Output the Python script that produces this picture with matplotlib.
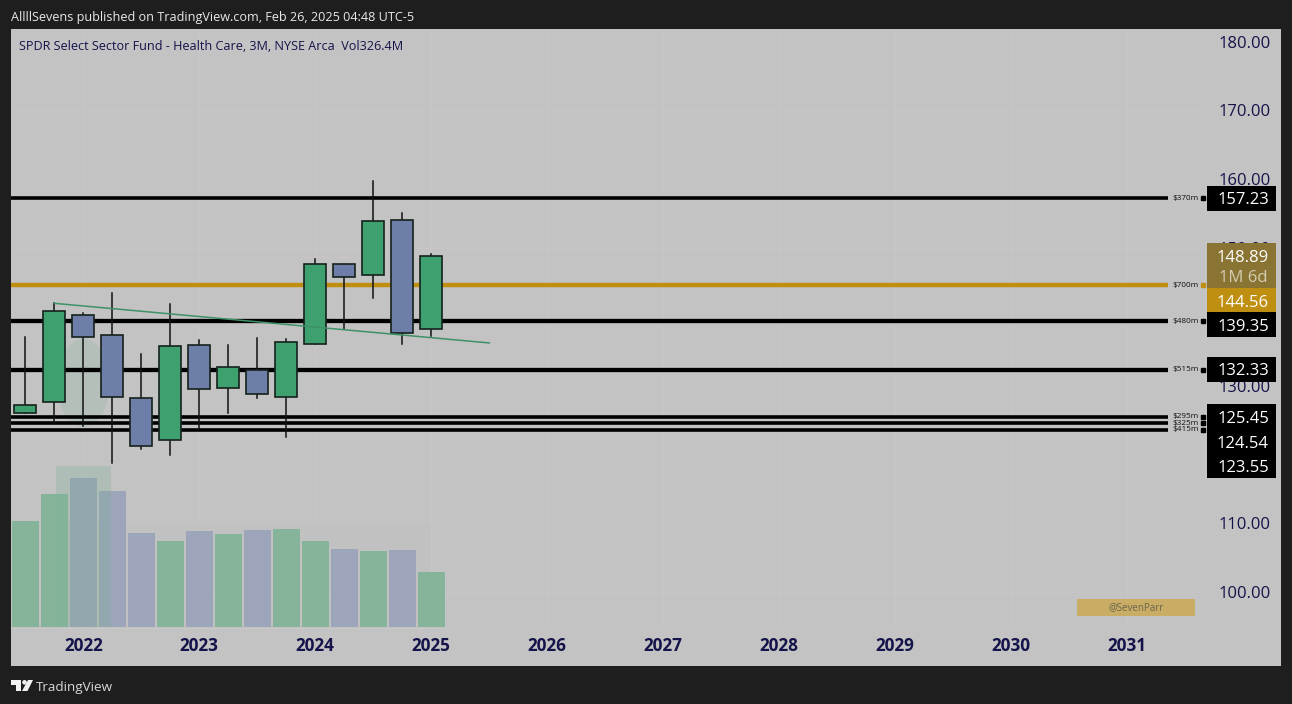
import matplotlib
matplotlib.use("Agg")
import matplotlib.pyplot as plt
from matplotlib.patches import Circle, Ellipse, Polygon, Rectangle

# OHLC, one candle per quarter
opens = [126.07, 127.57, 140.22, 137.31, 128.25, 122.05, 135.90, 129.61, 132.22, 128.39, 136.10, 147.63, 146.13, 154.12, 138.28]
highs = [137.12, 141.96, 140.51, 143.51, 134.55, 141.82, 136.63, 135.85, 136.87, 136.73, 148.36, 147.73, 159.74, 155.14, 149.13]
lows = [126.07, 124.76, 124.13, 118.80, 120.74, 119.92, 123.79, 126.07, 128.15, 122.58, 136.10, 138.18, 142.78, 136.00, 137.20]
closes = [127.23, 140.85, 137.07, 128.30, 121.17, 135.81, 129.51, 132.66, 128.73, 136.29, 147.68, 145.79, 153.98, 137.60, 148.84]
volumes = [631, 791, 884, 809, 556, 508, 572, 554, 574, 582, 510, 465, 451, 459, 326.4]
candle_x = [-2, -1, 0, 1, 2, 3, 4, 5, 6, 7, 8, 9, 10, 11, 12]

year_labels = ["2022", "2023", "2024", "2025", "2026", "2027", "2028", "2029", "2030", "2031"]
year_x = [0, 4, 8, 12, 16, 20, 24, 28, 32, 36]
# 120 and 140 sit fully behind the price tags in the reference
price_ticks = [100, 110, 130, 150, 160, 170, 180]

level_prices = [157.23, 139.35, 132.33, 125.45, 124.54, 123.55]
level_sizes = ["$370m", "$480m", "$515m", "$295m", "$325m", "$415m"]
gold_price = 144.56
gold_size = "$700m"
trend_x = [-1, 14]
trend_y = [141.96, 136.20]

BG = "#1e1e1e"
PANE = "#c3c3c3"
GRID = "#c6c6c6"
GREEN = "#3fa06f"
BLUE = "#6d7ea8"
GOLD = "#bf8f12"
NAVY = "#14134a"
W, H = 1292, 704


def box(l, t, r, b):
    return [l / W, 1 - b / H, (r - l) / W, (b - t) / H]


plt.rcParams["font.family"] = ["Open Sans", "DejaVu Sans"]
fig = plt.figure(figsize=(W / 100, H / 100), dpi=100, facecolor=BG)

# whole pane incl. the axis strips
back = fig.add_axes(box(11, 29, 1281, 666), facecolor=PANE, zorder=0)
back.set_xticks([])
back.set_yticks([])
for s in back.spines.values():
    s.set_visible(False)

ax = fig.add_axes(box(11, 29, 1205, 628), facecolor="none", zorder=1)
ax.set_xlim(-2.493, 38.68)
ax.set_ylim(94.77, 181.83)

for x in year_x:
    ax.axvline(x, color=GRID, lw=0.8, zorder=0)
for p in price_ticks:
    ax.axhline(p, color=GRID, lw=0.8, zorder=0)

ax.add_patch(Ellipse((0, 130.4), 1.83, 12.8, color="#8fb8a0", alpha=0.3, lw=0, zorder=1))

# levels stop short of the axis, then the size label and a small dot
line_end = 37.4
for p, lab in zip(level_prices, level_sizes):
    lw = 3.1 if p in (139.35, 132.33) else 2.6
    ax.plot([-2.493, line_end], [p, p], color="black", lw=lw, solid_capstyle="butt", zorder=2)
    ax.text(37.55, p, lab, fontsize=5.9, color="#111111", va="center", ha="left", zorder=5)
    ax.plot([38.6], [p], marker="s", ms=2.4, color="black", clip_on=False, zorder=5)
ax.plot([-2.493, line_end], [gold_price, gold_price], color=GOLD, lw=3.2, solid_capstyle="butt", zorder=2)
ax.text(37.55, gold_price, gold_size, fontsize=5.9, color="#111111", va="center", ha="left", zorder=5)
ax.plot([38.6], [gold_price], marker="s", ms=2.4, color=GOLD, clip_on=False, zorder=5)

for x, o, h, l, c in zip(candle_x, opens, highs, lows, closes):
    col = GREEN if c >= o else BLUE
    ax.plot([x, x], [l, h], color="#111111", lw=1.1, zorder=3)
    ax.add_patch(Rectangle((x - 0.375, min(o, c)), 0.75, abs(c - o), facecolor=col,
                           edgecolor="#16211c", lw=1.2, zorder=4))

ax.plot(trend_x, trend_y, color="#3d9268", lw=1.1, zorder=5)

ax.set_xticks(year_x)
ax.set_xticklabels(year_labels, fontsize=12.3, fontweight="bold", color=NAVY)
ax.tick_params(axis="x", length=0, pad=6.5)
ax.yaxis.tick_right()
ax.set_yticks(price_ticks)
ax.set_yticklabels([f"{p:.2f}" for p in price_ticks], fontsize=12, color=NAVY, va="center_baseline")
ax.tick_params(axis="y", length=0, pad=10)
for s in ["top", "left"]:
    ax.spines[s].set_visible(False)
ax.spines["right"].set_color(GRID)
ax.spines["bottom"].set_color(GRID)

# volume over the grid, same x scale as price
vol = fig.add_axes(box(11, 29, 1205, 627), facecolor="none", zorder=2)
vol.set_xlim(-2.493, 38.68)
vol.set_ylim(0, 3546)
vol.axis("off")
vol.add_patch(Rectangle((-2.493, 0), 14.45, 620, color="#b8bcb8", alpha=0.25, lw=0, zorder=1))
vol_colors = ["#85b49b" if c >= o else "#9ca5b9" for o, c in zip(opens, closes)]
vol.bar(candle_x, volumes, width=0.94, color=vol_colors, lw=0, zorder=2)
vol.add_patch(Rectangle((-0.93, 0), 1.88, 955, color="#7fb295", alpha=0.3, lw=0, zorder=3))

# overlay in picture pixels for price tags, header, watermark and logo
top = fig.add_axes([0, 0, 1, 1], facecolor="none", zorder=3)
top.set_xlim(0, W)
top.set_ylim(H, 0)
top.axis("off")

top.add_patch(Rectangle((1207, 186), 69, 24.5, facecolor="black", lw=0))
top.add_patch(Rectangle((1207, 243), 69, 45, facecolor="#8a7434", lw=0))
top.add_patch(Rectangle((1207, 288), 69, 24, facecolor=GOLD, lw=0))
top.add_patch(Rectangle((1207, 312), 69, 25, facecolor="black", lw=0))
top.add_patch(Rectangle((1207, 357), 69, 25, facecolor="black", lw=0))
top.add_patch(Rectangle((1207, 404), 69, 74, facecolor="black", lw=0))

tag_labels = ["157.23", "148.89", "1M 6d", "144.56", "139.35", "132.33", "125.45", "124.54", "123.55"]
tag_y = [198, 256, 276, 301, 325, 369, 417, 442, 466]
tag_colors = ["white", "white", "#d4ccb0", "white", "white", "white", "white", "white", "white"]
for lab, y, col in zip(tag_labels, tag_y, tag_colors):
    top.text(1243, y, lab, color=col, fontsize=12, ha="center", va="center_baseline")

top.text(11, 16, "AllllSevens published on TradingView.com, Feb 26, 2025 04:48 UTC-5",
         color="#e8e8e8", fontsize=9.05, va="center_baseline")
top.text(19, 45, "SPDR Select Sector Fund - Health Care, 3M, NYSE Arca  Vol326.4M",
         color=NAVY, fontsize=9.07, va="center_baseline")

top.add_patch(Rectangle((1077, 599), 118, 17, facecolor="#c9ad64", lw=0))
top.text(1136, 607.5, "@SevenParr", color="#6b6450", fontsize=7, ha="center", va="center")

# TradingView logo
logo = "#f2f2f2"
top.add_patch(Polygon([(11, 680), (21, 680), (21, 691), (16, 691), (16, 684.5), (11, 684.5)], facecolor=logo, lw=0))
top.add_patch(Circle((24.5, 682.3), 2.3, facecolor=logo, lw=0))
top.add_patch(Polygon([(28, 680), (33, 680), (27.5, 691), (22, 691)], facecolor=logo, lw=0))
top.text(36, 686, "TradingView", color="#d8d8d8", fontsize=9.7, va="center_baseline")

fig.savefig("out.png", facecolor=BG)
